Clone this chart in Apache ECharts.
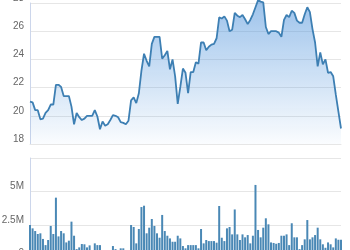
<!DOCTYPE html>
<html>
<head>
<meta charset="utf-8">
<script src="https://cdn.jsdelivr.net/npm/echarts@6/dist/echarts.min.js"></script>
<style>
html,body{margin:0;padding:0;background:#fff;}
#c{width:350px;height:250px;}
</style>
</head>
<body>
<div id="c"></div>
<script>
// Closing prices (121 trading days)
const prices = [
21.0,20.95,20.4,20.4,19.75,19.8,20.2,20.4,20.8,20.8,
22.2,22.2,22.05,21.4,21.4,21.4,20.65,19.4,20.2,19.9,
19.7,19.8,20.0,20.0,20.0,20.4,19.95,19.05,19.6,19.3,
19.4,19.7,20.05,20.0,19.9,19.55,19.5,19.4,19.65,21.1,
21.3,20.9,21.6,23.2,24.4,23.9,23.5,25.1,25.6,25.6,
25.6,24.05,24.3,24.6,23.3,24.0,22.8,20.85,22.05,23.35,
23.05,21.6,23.1,23.1,23.8,23.7,25.2,25.2,24.65,24.9,
25.05,25.1,25.5,26.98,26.9,27.05,26.75,26.0,26.1,27.3,
27.1,27.0,27.15,26.85,26.5,26.8,27.2,27.7,28.2,28.1,
28.05,26.3,25.8,26.0,26.0,26.0,25.9,25.6,26.8,27.15,
27.0,27.45,27.3,26.75,26.6,26.6,27.2,27.7,27.35,26.15,
25.2,23.5,24.5,23.65,24.0,23.05,23.1,22.8,21.5,20.3,
19.1
];
// Volumes in millions
const volumes = [
2.5,2.25,2.05,1.83,1.88,1.46,1.0,1.38,2.43,1.83,
4.54,1.65,2.05,1.88,1.2,1.33,2.75,1.7,0.7,0.83,
1.08,1.06,0.83,0.98,0.45,1.13,1.0,1.0,0.4,0.35,
0.5,0.45,0.93,0.7,0.4,0.76,0.76,0.4,0.5,2.5,
2.35,1.13,2.2,3.84,3.94,1.88,2.3,2.95,2.43,1.88,
1.55,3.25,2.05,1.7,1.5,1.25,1.25,1.7,1.5,0.93,
0.76,1.0,1.0,1.0,1.0,0.76,2.2,1.13,1.38,1.3,
1.3,1.3,1.18,3.92,1.55,1.3,2.25,2.35,1.8,3.66,
1.8,1.38,1.8,1.58,1.75,1.13,1.7,5.49,2.13,1.58,
2.3,3.0,2.55,1.2,1.16,1.1,1.16,1.7,1.7,1.8,
1.0,2.63,1.58,1.58,0.7,1.0,1.43,2.87,1.43,1.58,
1.75,2.3,1.43,1.06,0.8,1.2,1.06,0.83,1.5,1.4,
1.4
];
const categories = prices.map((_, i) => 'D' + (i + 1));
const priceTicks = [18, 20, 22, 24, 26, 28];
const volumeTicks = ['0', '2.5M', '5M', '7.5M'];

const chart = echarts.init(document.getElementById('c'), null, {renderer: 'canvas'});
const labelStyle = {color: '#666666', fontSize: 10, fontFamily: 'Liberation Sans, Arial, sans-serif', verticalAlign: 'bottom', margin: 6};
chart.setOption({
  animation: false,
  grid: [
    {left: 30, right: 9, top: 3, height: 141, outerBoundsMode: 'none', containLabel: false},
    {left: 30, right: 9, top: 158, height: 100.5, outerBoundsMode: 'none', containLabel: false}
  ],
  xAxis: [
    {type: 'category', gridIndex: 0, data: categories, boundaryGap: false,
     axisLine: {show: true, lineStyle: {color: '#e6e6e6'}}, axisTick: {show: false}, axisLabel: {show: false}},
    {type: 'category', gridIndex: 1, data: categories, boundaryGap: false,
     axisLine: {show: false}, axisTick: {show: false}, axisLabel: {show: false}}
  ],
  yAxis: [
    {type: 'value', gridIndex: 0, min: priceTicks[0], max: priceTicks[priceTicks.length - 1], interval: 2,
     axisLine: {show: true, lineStyle: {color: '#ccd6eb'}}, axisTick: {show: false},
     splitLine: {lineStyle: {color: '#e6e6e6'}},
     axisLabel: labelStyle},
    {type: 'value', gridIndex: 1, min: 0, max: 7.5, interval: 2.5,
     axisLine: {show: true, lineStyle: {color: '#ccd6eb'}}, axisTick: {show: false},
     splitLine: {lineStyle: {color: '#e6e6e6'}},
     axisLabel: Object.assign({}, labelStyle, {showMaxLabel: false,
       formatter: v => volumeTicks[Math.round(v / 2.5)]})}
  ],
  series: [
    {type: 'line', xAxisIndex: 0, yAxisIndex: 0, data: prices, symbol: 'none', clip: false,
     lineStyle: {color: '#3d7fb3', width: 1.8},
     areaStyle: {origin: 'start', color: new echarts.graphic.LinearGradient(0, 0, 0, 1, [
       {offset: 0, color: 'rgba(80,148,220,0.8)'},
       {offset: 1, color: 'rgba(80,148,220,0.04)'}
     ])}},
    {type: 'bar', xAxisIndex: 1, yAxisIndex: 1, data: volumes, barWidth: 2,
     itemStyle: {color: '#4a88b5'}}
  ]
});
</script>
</body>
</html>
